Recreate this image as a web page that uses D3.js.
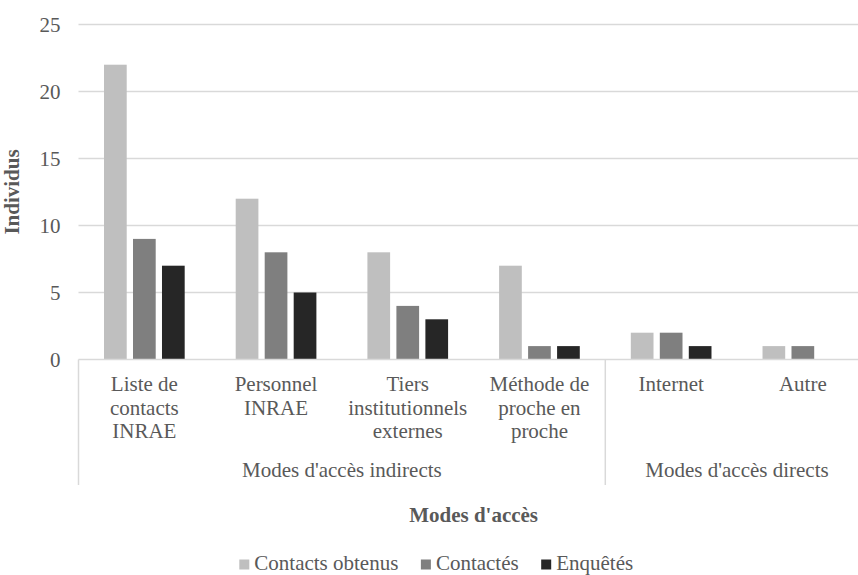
<!DOCTYPE html>
<html>
<head>
<meta charset="utf-8">
<script src="https://cdn.jsdelivr.net/npm/d3@7"></script>
<style>
  html, body { margin: 0; padding: 0; background: #fff; overflow: hidden; }
  svg { display: block; }
  svg text, svg tspan { font-family: "Liberation Serif", "Times New Roman", serif !important; }
</style>
</head>
<body>
<svg id="chart" width="858" height="575"></svg>
<script>
// Access modes (multi-line labels) and their grouping
const categories = [
  ["Liste de", "contacts", "INRAE"],
  ["Personnel", "INRAE"],
  ["Tiers", "institutionnels", "externes"],
  ["Méthode de", "proche en", "proche"],
  ["Internet"],
  ["Autre"]
];
const groups = [
  { label: "Modes d'accès indirects", count: 4 },
  { label: "Modes d'accès directs", count: 2 }
];
const seriesNames = ["Contacts obtenus", "Contactés", "Enquêtés"];
const contactsObtenus = [22, 12, 8, 7, 2, 1];
const contactes       = [9, 8, 4, 1, 2, 1];
const enquetes        = [7, 5, 3, 1, 1, 0];
const seriesValues = [contactsObtenus, contactes, enquetes];
const yTicks = [0, 5, 10, 15, 20, 25];

const colors = ["#bfbfbf", "#7f7f7f", "#262626"];
const textColor = "#595959";
const gridColor = "#d9d9d9";
const fontSize = 21;
const serif = "Liberation Serif, Times New Roman, serif";

const svg = d3.select("#chart");

const left = 78.5, catStep = 131.7;
const right = left + catStep * categories.length;
const yTop = 24.5, yBottom = 359.5;

const catIdx = categories.map((_, i) => i);
const x = d3.scaleBand().domain(catIdx).range([left, right]).padding(0);
const xInner = d3.scaleBand().domain(d3.range(seriesNames.length))
  .range([0, x.bandwidth()]).paddingInner(0.217).paddingOuter(0.88);
const y = d3.scaleLinear().domain([0, 25]).range([yBottom, yTop]);

function styleText(sel) {
  return sel.attr("fill", textColor)
    .attr("font-family", serif)
    .style("font-size", fontSize + "px");
}

// Value axis labels
const yAxis = d3.axisLeft(y).tickValues(yTicks).tickSize(0).tickPadding(18);
const gy = svg.append("g").attr("transform", `translate(${left},0)`).call(yAxis);
gy.attr("font-family", serif);
gy.select(".domain").remove();
styleText(gy.selectAll("text"));

// Horizontal gridlines
svg.append("g").selectAll("line")
  .data(yTicks.filter(t => t > 0))
  .join("line")
  .attr("x1", left).attr("x2", right)
  .attr("y1", d => y(d)).attr("y2", d => y(d))
  .attr("stroke", gridColor).attr("stroke-width", 1.5);

// Bars
const barG = svg.append("g");
seriesValues.forEach((vals, s) => {
  barG.append("g").selectAll("rect")
    .data(vals)
    .join("rect")
    .attr("x", (d, i) => x(i) + xInner(s))
    .attr("width", xInner.bandwidth())
    .attr("y", d => y(d))
    .attr("height", d => y(0) - y(d))
    .attr("fill", colors[s]);
});

// Category axis line
svg.append("line")
  .attr("x1", left).attr("x2", right)
  .attr("y1", yBottom).attr("y2", yBottom)
  .attr("stroke", gridColor).attr("stroke-width", 1.5);

// Group separators (vertical lines below the axis)
const sepBottom = 485;
let acc = 0;
const sepIdx = [0];
groups.forEach(g => { acc += g.count; sepIdx.push(acc); });
svg.append("g").selectAll("line")
  .data(sepIdx)
  .join("line")
  .attr("x1", d => left + d * catStep).attr("x2", d => left + d * catStep)
  .attr("y1", yBottom).attr("y2", sepBottom)
  .attr("stroke", gridColor).attr("stroke-width", 1.5);

// Category labels
const lineH = 23.8, firstBase = 390.7;
const catG = svg.append("g");
categories.forEach((lines, i) => {
  const t = styleText(catG.append("text").attr("text-anchor", "middle"));
  lines.forEach((ln, k) => {
    t.append("tspan")
      .attr("x", x(i) + x.bandwidth() / 2)
      .attr("y", firstBase + k * lineH)
      .text(ln);
  });
});

// Group labels
let start = 0;
groups.forEach(g => {
  const x0 = left + start * catStep, x1 = left + (start + g.count) * catStep;
  styleText(svg.append("text"))
    .attr("x", (x0 + x1) / 2).attr("y", 476.7)
    .attr("text-anchor", "middle")
    .text(g.label);
  start += g.count;
});

// Axis titles
styleText(svg.append("text"))
  .attr("transform", `translate(19,${(yTop + yBottom) / 2}) rotate(-90)`)
  .attr("text-anchor", "middle")
  .style("font-weight", "bold")
  .text("Individus");

styleText(svg.append("text"))
  .attr("x", (left + right) / 2).attr("y", 521.5)
  .attr("text-anchor", "middle")
  .style("font-weight", "bold")
  .text("Modes d'accès");

// Legend
const legend = svg.append("g");
let lx = 239.3;
seriesNames.forEach((name, s) => {
  legend.append("rect")
    .attr("x", lx).attr("y", 559.5)
    .attr("width", 10).attr("height", 10)
    .attr("fill", colors[s]);
  const t = styleText(legend.append("text"))
    .attr("x", lx + 15).attr("y", 570.3)
    .text(name);
  lx += 15 + t.node().getComputedTextLength() + 22.5;
});
</script>
</body>
</html>
